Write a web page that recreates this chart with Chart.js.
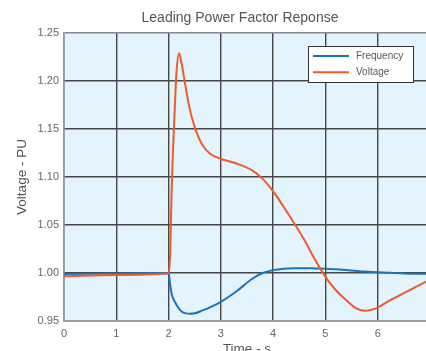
<!DOCTYPE html>
<html>
<head>
<meta charset="utf-8">
<script src="https://cdn.jsdelivr.net/npm/chart.js@4.4.0/dist/chart.umd.min.js"></script>
<style>
html,body{margin:0;padding:0;background:#fff;overflow:hidden}
#wrap{width:440px;height:358px}
</style>
</head>
<body>
<div id="wrap"><canvas id="c" width="440" height="358"></canvas></div>
<script>
// values
const time=[0,1,2,2.03,2.06,2.09,2.12,2.15,2.2,2.25,2.3,2.4,2.5,2.65,2.8,3.0,3.3,3.6,3.8,4.0,4.2,4.4,4.6,4.8,5.0,5.2,5.4,5.6,5.75,6.0,6.2,6.5,7.0];
const frequency=[0.999,0.9995,1.000,0.988,0.978,0.973,0.970,0.967,0.963,0.960,0.9585,0.9575,0.958,0.961,0.9645,0.970,0.981,0.994,1.000,1.003,1.0045,1.005,1.005,1.0048,1.0045,1.0038,1.003,1.002,1.0015,1.0007,1.0002,0.9996,0.9992];
const voltage=[0.9965,0.998,0.9995,1.02,1.089,1.135,1.173,1.208,1.229,1.218,1.202,1.172,1.152,1.133,1.124,1.119,1.114,1.107,1.098,1.085,1.069,1.052,1.034,1.014,0.996,0.982,0.9715,0.963,0.9607,0.964,0.9705,0.979,0.993];
const seriesNames=['Frequency','Voltage'];
const seriesColors=['#1b74bd','#f15a2b'];
const chartTitle='Leading Power Factor Reponse';

const FONT='"Liberation Sans", Arial, sans-serif';
const pts=arr=>arr.map((v,i)=>({x:time[i],y:v}));

const bgPlugin={id:'bg',beforeDraw(chart){const a=chart.chartArea,ctx=chart.ctx;ctx.save();ctx.fillStyle='#e3f4fc';ctx.fillRect(a.left,a.top,a.right-a.left,a.bottom-a.top);ctx.restore();}};

// title centred a bit left of the plot centre, like the original figure
const titlePlugin={id:'topTitle',afterDraw(chart){
  const a=chart.chartArea,ctx=chart.ctx;
  ctx.save();ctx.font='14px '+FONT;ctx.fillStyle='#555';ctx.textAlign='center';ctx.textBaseline='middle';
  ctx.fillText(chartTitle,a.left+176,18);ctx.restore();
}};

// boxed legend inside the plot, upper right
const boxLegend={id:'boxLegend',afterDraw(chart){
  const a=chart.chartArea,ctx=chart.ctx;
  const w=105,h=36,x=a.right-17-w,y=a.top+13;
  ctx.save();
  ctx.fillStyle='#fff';ctx.fillRect(x,y,w,h);
  ctx.strokeStyle='#333';ctx.lineWidth=1;ctx.strokeRect(x+0.5,y+0.5,w,h);
  ctx.font='10px '+FONT;ctx.textBaseline='middle';
  chart.data.datasets.forEach((d,i)=>{
    const ly=y+10+i*16.3;
    ctx.strokeStyle=d.borderColor;ctx.lineWidth=2;
    ctx.beginPath();ctx.moveTo(x+5,ly);ctx.lineTo(x+41,ly);ctx.stroke();
    ctx.fillStyle='#5a5a5a';ctx.fillText(d.label,x+48,ly);
  });
  ctx.restore();
}};

new Chart(document.getElementById('c'),{
  type:'line',
  data:{datasets:[
    {label:seriesNames[0],data:pts(frequency),borderColor:seriesColors[0],borderWidth:2,pointRadius:0,cubicInterpolationMode:'monotone',order:1},
    {label:seriesNames[1],data:pts(voltage),borderColor:seriesColors[1],borderWidth:2,pointRadius:0,cubicInterpolationMode:'monotone',order:0}
  ]},
  options:{
    responsive:false,animation:false,
    layout:{padding:{left:0,right:10,top:33,bottom:0}},
    plugins:{legend:{display:false},tooltip:{enabled:false},title:{display:false}},
    scales:{
      x:{type:'linear',min:0,max:7,
        ticks:{stepSize:1,color:'#666',font:{family:FONT,size:11},padding:6,maxRotation:0},
        grid:{color:'#474747',lineWidth:1.4,drawTicks:false},
        border:{color:'#999',width:1.5},
        title:{display:true,text:'Time - s',color:'#555',font:{family:FONT,size:13.5},padding:{top:4,bottom:1}},
        afterFit(s){s.height=37;}
      },
      y:{min:0.95,max:1.25,
        ticks:{stepSize:0.05,color:'#666',font:{family:FONT,size:11},padding:5,callback:v=>v.toFixed(2)},
        grid:{color:c=>Math.abs(c.tick.value-1.25)<1e-6?'#8a8a8a':'#474747',lineWidth:1.4,drawTicks:false},
        border:{color:'#999',width:1.5},
        title:{display:true,text:'Voltage - PU',color:'#555',font:{family:FONT,size:13.5},padding:{top:14.5,bottom:4}},
        afterFit(s){s.width=64;}
      }
    }
  },
  plugins:[bgPlugin,titlePlugin,boxLegend]
});
</script>
</body>
</html>
